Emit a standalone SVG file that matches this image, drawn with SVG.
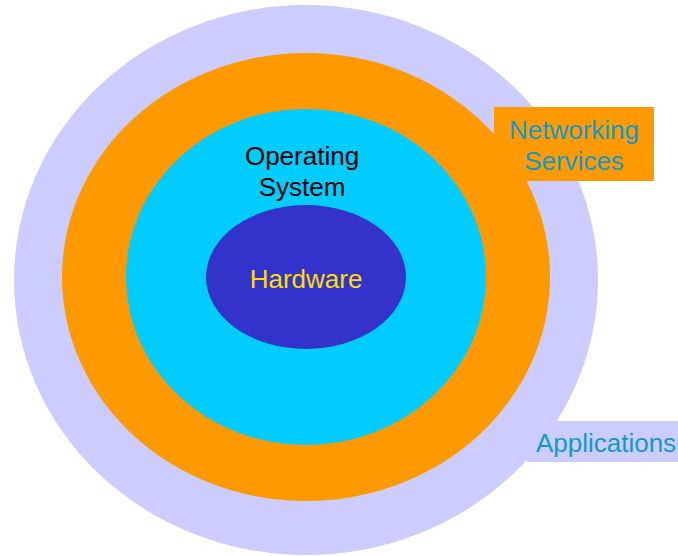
<svg xmlns="http://www.w3.org/2000/svg" width="678" height="556" viewBox="0 0 678 556">
<style>
.t{font-family:"Liberation Sans",Arial,sans-serif;font-size:26px;text-anchor:middle}
.blue{fill:#1199cc}
</style>
<rect width="678" height="556" fill="#ffffff"/>
<g id="applications">
<ellipse cx="306" cy="280" rx="292" ry="275" fill="#ccccff"/>
</g>
<g id="networking">
<ellipse cx="306" cy="277" rx="244" ry="224" fill="#ff9900"/>
</g>
<g id="os">
<ellipse cx="306" cy="277" rx="180" ry="168" fill="#00ccff"/>
<text class="t" x="302" y="165" fill="#000000">Operating</text>
<text class="t" x="302" y="196" fill="#000000">System</text>
</g>
<g id="hardware">
<ellipse cx="306" cy="277" rx="100" ry="72" fill="#3333cc"/>
<text class="t" x="306" y="288" fill="#ffdd00">Hardware</text>
</g>
<g id="networking-label">
<rect x="494" y="107" width="160" height="74" fill="#ff9900"/>
<text class="t blue" x="574" y="139">Networking</text>
<text class="t blue" x="574" y="170">Services</text>
</g>
<g id="applications-label">
<rect x="527" y="421" width="151" height="41" fill="#ccccff"/>
<text class="t blue" x="606" y="452">Applications</text>
</g>
<g id="connectors"></g>
</svg>
